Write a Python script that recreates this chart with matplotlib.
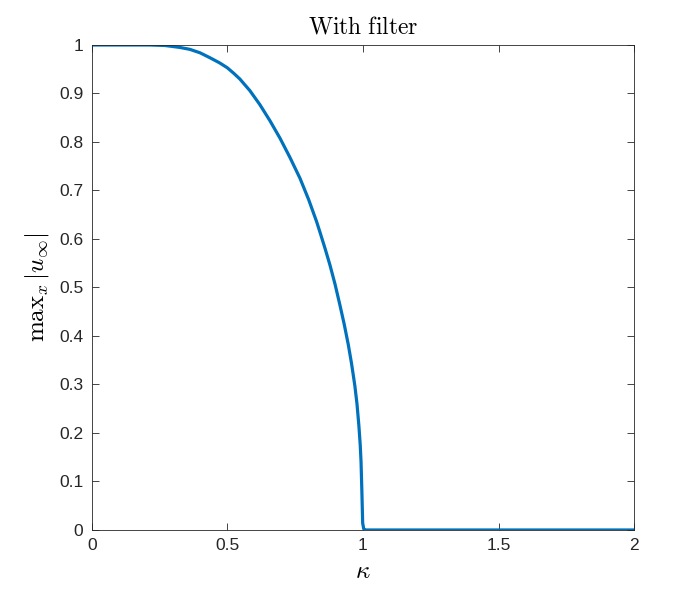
import matplotlib
matplotlib.use("Agg")
import matplotlib.pyplot as plt

plt.rcParams['font.family'] = ['Liberation Sans', 'DejaVu Sans']
plt.rcParams['mathtext.fontset'] = 'cm'

kappa = [0.0, 0.1, 0.214, 0.27, 0.325, 0.362, 0.399, 0.435, 0.472, 0.50, 0.523,
         0.546, 0.583, 0.620, 0.657, 0.694, 0.731, 0.768, 0.800, 0.829, 0.841,
         0.860, 0.878, 0.897, 0.915, 0.931, 0.946, 0.958, 0.970, 0.978, 0.985,
         0.990, 0.993, 0.996, 0.999, 1.003, 1.007, 1.5, 2.0]
umax = [1.0, 1.0, 1.0, 0.999, 0.995, 0.991, 0.984, 0.974, 0.963, 0.953, 0.942,
        0.930, 0.906, 0.877, 0.844, 0.808, 0.768, 0.725, 0.681, 0.636, 0.615,
        0.581, 0.547, 0.507, 0.464, 0.424, 0.382, 0.343, 0.298, 0.260, 0.215,
        0.175, 0.140, 0.08, 0.014, 0.002, 0.0, 0.0, 0.0]
xticks = [0, 0.5, 1, 1.5, 2]
xticklabels = ["0", "0.5", "1", "1.5", "2"]
yticks = [0, 0.1, 0.2, 0.3, 0.4, 0.5, 0.6, 0.7, 0.8, 0.9, 1]
yticklabels = ["0", "0.1", "0.2", "0.3", "0.4", "0.5", "0.6", "0.7", "0.8", "0.9", "1"]

fig = plt.figure(figsize=(7, 6), dpi=100)
ax = fig.add_axes([0.131, 0.1167, 0.775, 0.8083])
ax.plot(kappa, umax, color='#0072BD', linewidth=2.3, solid_joinstyle='round')
ax.set_xlim(0, 2)
ax.set_ylim(0, 1)
ax.set_xticks(xticks)
ax.set_xticklabels(xticklabels)
ax.set_yticks(yticks)
ax.set_yticklabels(yticklabels)
ax.tick_params(direction='in', top=True, right=True, labelsize=12.5, length=5,
               width=0.6, colors='#262626', pad=6)
for s in ax.spines.values():
    s.set_linewidth(0.6)
    s.set_color('#262626')
ax.set_title(r'$\mathrm{With\ filter}$', fontsize=17, pad=8)
ax.set_xlabel(r'$\kappa$', fontsize=18, labelpad=4)
ax.set_ylabel(r'$\mathrm{max}_x\,|u_\infty|$', fontsize=18, labelpad=6)
fig.savefig('out.png', dpi=100)
